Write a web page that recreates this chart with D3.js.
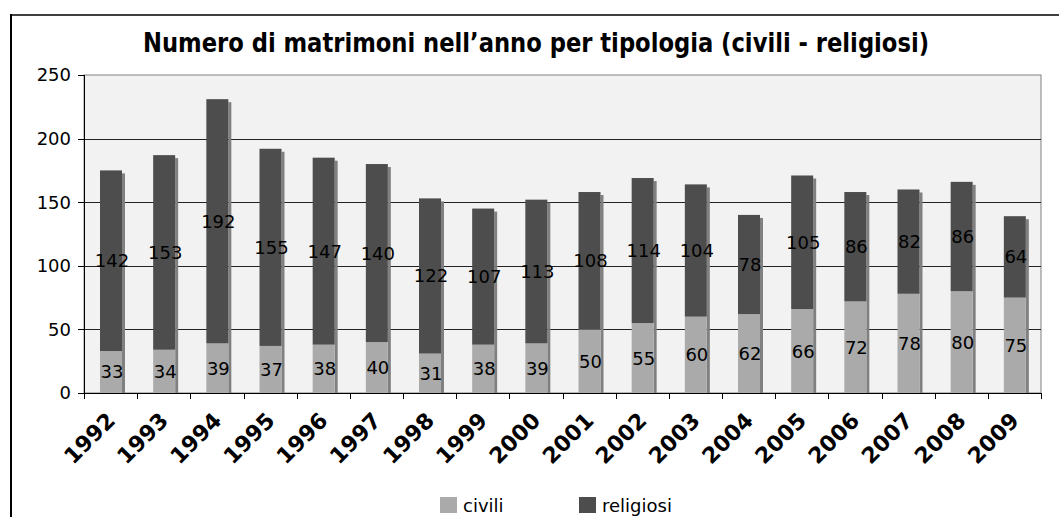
<!DOCTYPE html>
<html>
<head>
<meta charset="utf-8">
<script src="https://cdn.jsdelivr.net/npm/d3@7"></script>
<style>
  body { margin: 0; background: #fff; }
  svg { display: block; }
</style>
</head>
<body>
<script>
// dati
var anni = ["1992","1993","1994","1995","1996","1997","1998","1999","2000",
            "2001","2002","2003","2004","2005","2006","2007","2008","2009"];
var civili = [33,34,39,37,38,40,31,38,39,50,55,60,62,66,72,78,80,75];
var religiosi = [142,153,192,155,147,140,122,107,113,108,114,104,78,105,86,82,86,64];
var yTicks = [0,50,100,150,200,250];
var serie = ["civili","religiosi"];
var colori = ["#aaaaaa","#4d4d4d"];

var w = 1059, h = 517;
var pLeft = 84, pRight = 1041, pTop = 75, pBottom = 393;

var svg = d3.select("body").append("svg")
  .attr("width", w)
  .attr("height", h);

// cornice esterna
svg.append("line").attr("x1", 11).attr("y1", 15).attr("x2", 1059).attr("y2", 15)
  .attr("stroke", "#000").attr("stroke-width", 1.5);
svg.append("line").attr("x1", 11).attr("y1", 14).attr("x2", 11).attr("y2", 517)
  .attr("stroke", "#000").attr("stroke-width", 2);

// titolo
svg.append("text")
  .text("Numero di matrimoni nell\u2019anno per tipologia (civili - religiosi)")
  .attr("x", 143)
  .attr("y", 52)
  .attr("font-family", "'DejaVu Sans Condensed', 'Liberation Sans', sans-serif")
  .attr("font-weight", "bold")
  .attr("font-size", "27px")
  .attr("fill", "#000")
  .attr("textLength", 786)
  .attr("lengthAdjust", "spacingAndGlyphs");

var x = d3.scaleBand().domain(anni).range([pLeft, pRight]);
var y = d3.scaleLinear().domain([0, 250]).range([pBottom, pTop]);

// area del grafico
svg.append("rect")
  .attr("x", pLeft).attr("y", pTop)
  .attr("width", pRight - pLeft).attr("height", pBottom - pTop)
  .attr("fill", "#f2f2f2")
  .attr("stroke", "#808080").attr("stroke-width", 1);

// griglia
svg.selectAll("line.grid")
  .data(yTicks.filter(function(d) { return d > 0 && d < 250; }))
  .enter().append("line")
  .attr("class", "grid")
  .attr("x1", pLeft).attr("x2", pRight)
  .attr("y1", function(d) { return Math.round(y(d)) + 0.5; })
  .attr("y2", function(d) { return Math.round(y(d)) + 0.5; })
  .attr("stroke", "#222").attr("stroke-width", 1);

// dati impilati
var tabella = anni.map(function(a, i) {
  return { anno: a, civili: civili[i], religiosi: religiosi[i] };
});
var stack = d3.stack().keys(serie)(tabella);

var bw = 22, off = 16;

// ombra
svg.selectAll("rect.shadow")
  .data(tabella)
  .enter().append("rect")
  .attr("class", "shadow")
  .attr("x", function(d) { return x(d.anno) + off + bw; })
  .attr("y", function(d) { return y(d.civili + d.religiosi) + 3; })
  .attr("width", 3)
  .attr("height", function(d) { return pBottom - y(d.civili + d.religiosi) - 3; })
  .attr("fill", "#808080");

var gruppi = svg.selectAll("g.serie")
  .data(stack)
  .enter().append("g")
  .attr("class", "serie")
  .attr("fill", function(d, i) { return colori[i]; });

gruppi.selectAll("rect")
  .data(function(d) { return d; })
  .enter().append("rect")
  .attr("x", function(d) { return x(d.data.anno) + off; })
  .attr("y", function(d) { return y(d[1]); })
  .attr("width", bw)
  .attr("height", function(d) { return y(d[0]) - y(d[1]); });

// etichette valori
gruppi.selectAll("text")
  .data(function(d) { return d; })
  .enter().append("text")
  .text(function(d) { return d[1] - d[0]; })
  .attr("x", function(d) { return x(d.data.anno) + off + bw / 2 + 1; })
  .attr("y", function(d) { return y((d[0] + d[1]) / 2); })
  .attr("dy", "0.36em")
  .attr("text-anchor", "middle")
  .attr("font-family", "'DejaVu Sans', Verdana, sans-serif")
  .attr("font-size", "18px")
  .attr("fill", "#000");

// asse y
svg.append("line").attr("x1", pLeft + 0.5).attr("x2", pLeft + 0.5).attr("y1", pTop).attr("y2", pBottom)
  .attr("stroke", "#000");
svg.selectAll("line.ytick")
  .data(yTicks)
  .enter().append("line")
  .attr("class", "ytick")
  .attr("x1", pLeft - 6).attr("x2", pLeft)
  .attr("y1", function(d) { return Math.round(y(d)) + 0.5; })
  .attr("y2", function(d) { return Math.round(y(d)) + 0.5; })
  .attr("stroke", "#000");
svg.selectAll("text.ylab")
  .data(yTicks)
  .enter().append("text")
  .attr("class", "ylab")
  .text(function(d) { return d; })
  .attr("x", 71)
  .attr("y", function(d) { return y(d); })
  .attr("dy", "0.36em")
  .attr("text-anchor", "end")
  .attr("font-family", "'DejaVu Sans', Verdana, sans-serif")
  .attr("font-size", "18px")
  .attr("fill", "#000");

// asse x
svg.append("line").attr("x1", pLeft).attr("x2", pRight).attr("y1", pBottom + 0.5).attr("y2", pBottom + 0.5)
  .attr("stroke", "#000");
var bordi = anni.map(function(a) { return x(a); }).concat([pRight]);
svg.selectAll("line.xtick")
  .data(bordi)
  .enter().append("line")
  .attr("class", "xtick")
  .attr("x1", function(d) { return Math.round(d) + 0.5; })
  .attr("x2", function(d) { return Math.round(d) + 0.5; })
  .attr("y1", pBottom).attr("y2", pBottom + 6)
  .attr("stroke", "#000");
svg.selectAll("text.xlab")
  .data(anni)
  .enter().append("text")
  .attr("class", "xlab")
  .text(function(d) { return d; })
  .attr("transform", function(d) {
    return "translate(" + (x(d) + x.bandwidth() / 2 - 5) + "," + (pBottom + 18) + ") rotate(-45)";
  })
  .attr("text-anchor", "end")
  .attr("dy", "0.7em")
  .attr("font-family", "'DejaVu Sans', Verdana, sans-serif")
  .attr("font-weight", "bold")
  .attr("font-size", "22px")
  .attr("fill", "#000");

// legenda
var legX = [440, 579];
serie.forEach(function(s, i) {
  svg.append("rect")
    .attr("x", legX[i]).attr("y", 497)
    .attr("width", 17).attr("height", 16)
    .attr("fill", colori[i]);
  svg.append("text")
    .text(s)
    .attr("x", legX[i] + 23)
    .attr("y", 512)
    .attr("font-family", "'DejaVu Sans', Verdana, sans-serif")
    .attr("font-size", "18px")
    .attr("fill", "#000");
});
</script>
</body>
</html>
